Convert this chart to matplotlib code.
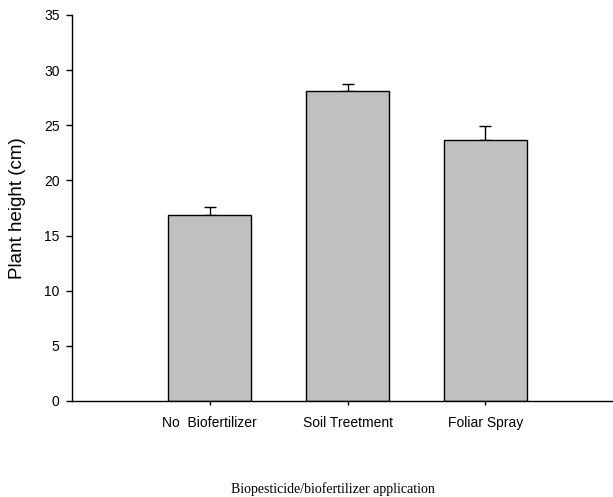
import matplotlib
matplotlib.use("Agg")
import matplotlib.pyplot as plt
import numpy as np

categories = ["No  Biofertilizer", "Soil Treetment", "Foliar Spray"]
heights = [16.85, 28.1, 23.7]
errors = [0.7, 0.6, 1.25]
y_ticks = [0, 5, 10, 15, 20, 25, 30, 35]

W, H = 613, 497
fig = plt.figure(figsize=(W / 100, H / 100), dpi=100)
ax = fig.add_axes([72 / W, 1 - 401 / H, (612 - 72) / W, (401 - 15) / H])

x = np.arange(len(categories))
ax.bar(x, heights, width=0.6, color="#c0c0c0", edgecolor="black", linewidth=1.0, zorder=2)
ax.errorbar(x, heights, yerr=[np.zeros(len(errors)), errors], fmt="none",
            ecolor="black", elinewidth=1.0, capsize=4, capthick=1.0, zorder=1)

ax.set_xlim(-1.0, 2.92)
ax.set_ylim(0, 35)
ax.set_yticks(y_ticks)
ax.set_xticks(x)
ax.set_xticklabels(categories)

for side in ("top", "right"):
    ax.spines[side].set_visible(False)
for side in ("left", "bottom"):
    ax.spines[side].set_linewidth(1.0)

ax.tick_params(axis="y", direction="out", length=4, width=1, pad=5, labelsize=10)
ax.tick_params(axis="x", direction="out", length=3, width=1, pad=8, labelsize=10)
for lab in ax.get_xticklabels() + ax.get_yticklabels():
    lab.set_family("Liberation Sans")

fig.text(18 / W, 1 - 208 / H, "Plant height (cm)", rotation=90, ha="center", va="center",
         family="Liberation Sans", fontsize=13.5)
fig.text(333 / W, 1 - 489 / H, "Biopesticide/biofertilizer application", ha="center", va="center",
         family="Liberation Serif", fontsize=10)

fig.savefig("out.png", dpi=100)
